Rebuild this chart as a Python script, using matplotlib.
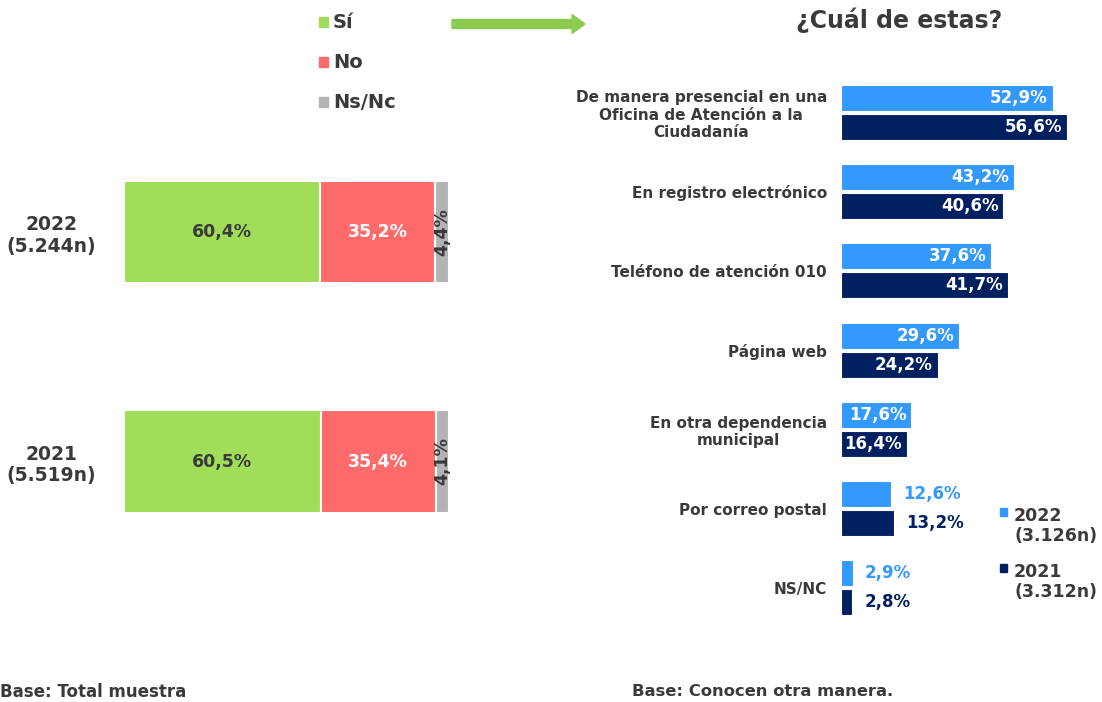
import numpy as np
import matplotlib
matplotlib.use('Agg')
import matplotlib.pyplot as plt
from matplotlib.patches import FancyArrow

plt.rcParams['font.family'] = ['DejaVu Sans']
plt.rcParams['font.weight'] = 'bold'

### Data
years_left = ['2022\n(5.244n)', '2021\n(5.519n)']
si = [60.4, 60.5]
no = [35.2, 35.4]
nsnc = [4.4, 4.1]
resp_labels = ['Sí', 'No', 'Ns/Nc']

ways = ['De manera presencial en una\nOficina de Atención a la\nCiudadanía',
        'En registro electrónico',
        'Teléfono de atención 010',
        'Página web',
        'En otra dependencia\nmunicipal',
        'Por correo postal',
        'NS/NC']
v2022 = [52.9, 43.2, 37.6, 29.6, 17.6, 12.6, 2.9]
v2021 = [56.6, 40.6, 41.7, 24.2, 16.4, 13.2, 2.8]
series_labels = ['2022\n(3.126n)', '2021\n(3.312n)']

C_GREEN = '#A0DD58'
C_RED = '#FF6B6B'
C_GRAY = '#B3B3B3'
C_LBLUE = '#3399FF'
C_NAVY = '#002060'
C_TXT = '#3A3A3A'

W, H = 1102, 702
fig = plt.figure(figsize=(W/100, H/100), dpi=100)

def px(x0, y0, x1, y1):
    # pixel box (top-left origin) -> figure fraction
    return [x0/W, 1 - y1/H, (x1-x0)/W, (y1-y0)/H]

def fmt(v):
    return ('%.1f%%' % v).replace('.', ',')

## Left stacked chart
axl = fig.add_axes(px(124, 117.25, 449, 576.25))
ypos = np.arange(len(years_left))
bh = 0.445
axl.barh(ypos, si, height=bh, color=C_GREEN, edgecolor='white', linewidth=1.5)
axl.barh(ypos, no, left=si, height=bh, color=C_RED, edgecolor='white', linewidth=1.5)
left3 = np.array(si) + np.array(no)
axl.barh(ypos, nsnc, left=left3, height=bh, color=C_GRAY, edgecolor='white', linewidth=1.5)
for i in range(len(ypos)):
    axl.text(si[i]/2, ypos[i], fmt(si[i]), ha='center', va='center', fontsize=12.5, color=C_TXT, weight='bold')
    axl.text(si[i] + no[i]/2, ypos[i], fmt(no[i]), ha='center', va='center', fontsize=12.5, color='white', weight='bold')
    axl.text(left3[i] + nsnc[i]/2, ypos[i], fmt(nsnc[i]), ha='center', va='center', fontsize=12.5,
             color=C_TXT, weight='bold', rotation=90)
axl.set_xlim(0, 100)
axl.set_ylim(len(ypos)-0.5, -0.5)
axl.set_yticks(ypos)
axl.set_yticklabels(years_left, fontsize=13.5, color=C_TXT, weight='bold', multialignment='center')
axl.tick_params(axis='y', length=0, pad=20)
axl.set_xticks([])
for s in axl.spines.values():
    s.set_visible(False)

# legend left
for lab, col, yy in zip(resp_labels, [C_GREEN, C_RED, C_GRAY], [22, 62, 102]):
    fig.patches.append(plt.Rectangle((319/W, 1-(yy+5)/H), 9/W, 10/H, color=col, transform=fig.transFigure))
    fig.text(333/W, 1-yy/H, lab, ha='left', va='center', fontsize=14, color=C_TXT, weight='bold')

# arrow
fig.patches.append(FancyArrow(452/W, 1-24/H, 120/W, 0, width=9/H, head_width=19/H, head_length=13/W,
                              length_includes_head=False, color='#8DCB4E', transform=fig.transFigure))

## Right grouped chart
axr = fig.add_axes(px(841, 72.9, 1101, 627.3))
yy = np.arange(len(ways))
off = 0.183
bh2 = 0.33
axr.barh(yy - off, v2022, height=bh2, color=C_LBLUE, edgecolor='white', linewidth=0.8)
axr.barh(yy + off, v2021, height=bh2, color=C_NAVY, edgecolor='white', linewidth=0.8)
for i in range(len(ways)):
    for v, y, col in [(v2022[i], yy[i]-off, C_LBLUE), (v2021[i], yy[i]+off, C_NAVY)]:
        if v >= 15:
            axr.text(v - 1.2, y, fmt(v), ha='right', va='center', fontsize=12, color='white', weight='bold')
        else:
            axr.text(v + 3, y, fmt(v), ha='left', va='center', fontsize=12, color=col, weight='bold')
axr.set_xlim(0, 65)
axr.set_ylim(len(ways)-0.5, -0.5)
axr.set_yticks(yy)
axr.set_yticklabels(ways, fontsize=11, color=C_TXT, weight='bold', multialignment='center')
axr.tick_params(axis='y', length=0, pad=10)
axr.set_xticks([])
for s in axr.spines.values():
    s.set_visible(False)

fig.text(899/W, 1-20/H, '¿Cuál de estas?', ha='center', va='center', fontsize=17, color=C_TXT, weight='bold')

# legend right
for lab, col, ty in zip(series_labels, [C_LBLUE, C_NAVY], [526, 582]):
    fig.patches.append(plt.Rectangle((1000/W, 1-(ty-10)/H), 7/W, 8/H, color=col, transform=fig.transFigure))
    fig.text(1014/W, 1-ty/H, lab, ha='left', va='center', fontsize=12.5, color=C_TXT, weight='bold', linespacing=1.15)

fig.text(0/W, 1-692/H, 'Base: Total muestra', ha='left', va='center', fontsize=12, color=C_TXT, weight='bold')
fig.text(632/W, 1-692/H, 'Base: Conocen otra manera.', ha='left', va='center', fontsize=11.8, color=C_TXT, weight='bold')

fig.savefig('out.png', dpi=100)
